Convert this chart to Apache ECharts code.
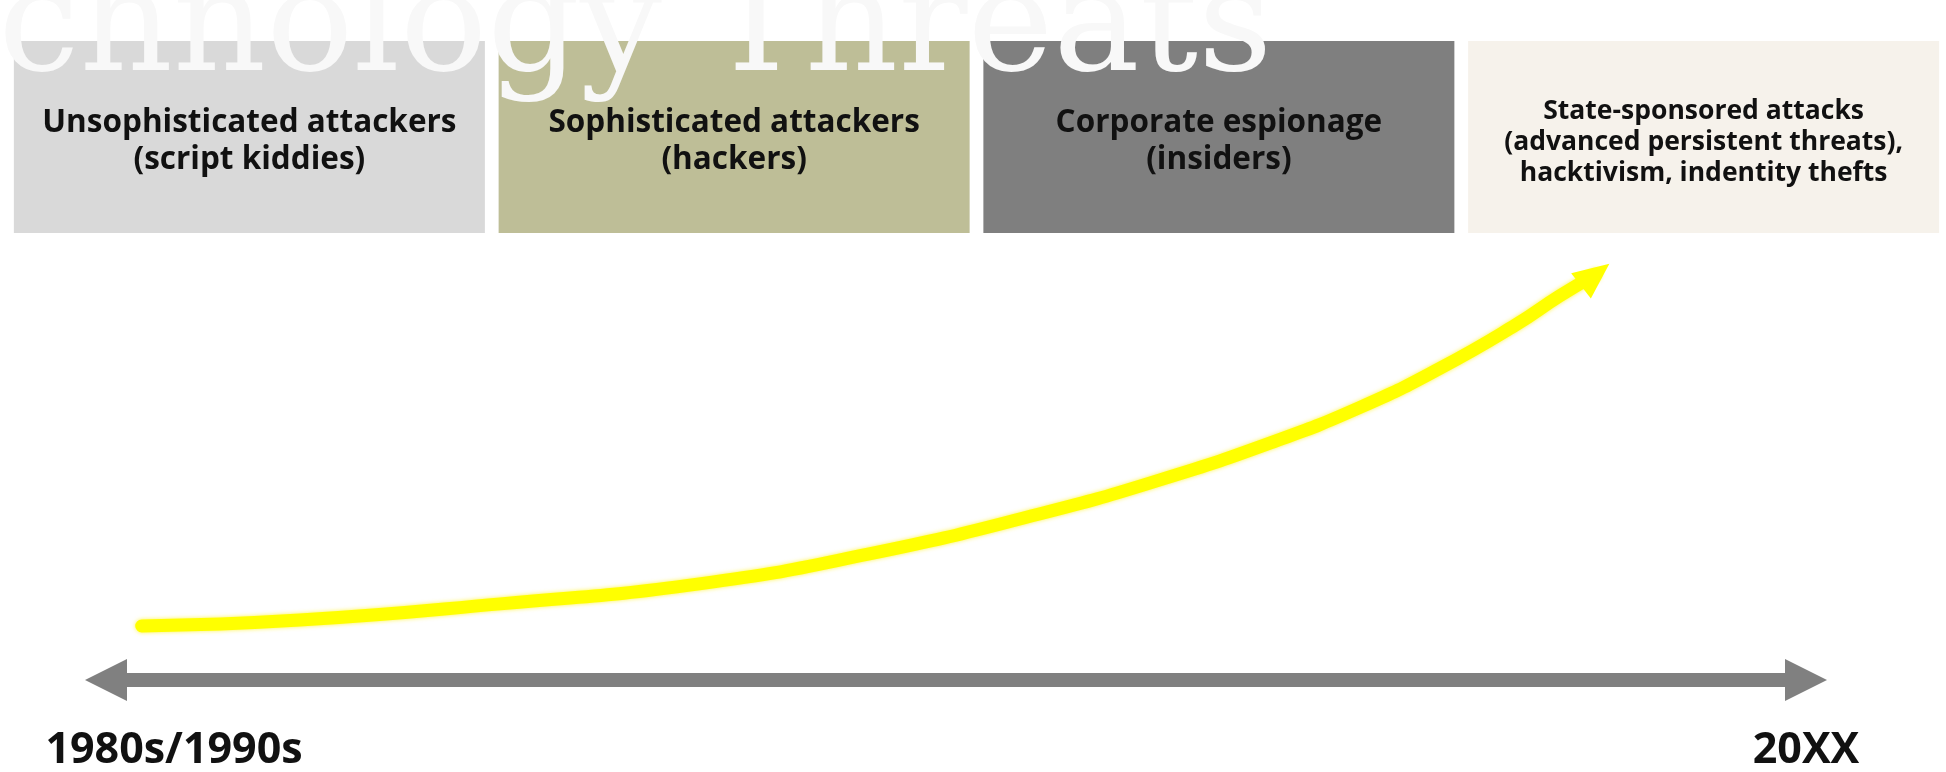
<!DOCTYPE html>
<html><head><meta charset="utf-8">
<script src="https://cdn.jsdelivr.net/npm/echarts@6/dist/echarts.min.js"></script>
<style>html,body{margin:0;padding:0;background:#fff;}#c{width:1946px;height:772px;}</style>
</head><body><div id="c"></div>
<script>
// ---- data ----
const titleText = 'Technology Threats';
const stages = [
  'Unsophisticated attackers\n(script kiddies)',
  'Sophisticated attackers\n(hackers)',
  'Corporate espionage\n(insiders)',
  'State-sponsored attacks\n(advanced persistent threats),\nhacktivism, indentity thefts'
];
const stageValues = [1, 1, 1, 1];
const timeLabels = ['1980s/1990s', '20XX'];
const timeLabelPositions = [4, 100];
const trendX = [2.1, 11.4, 23.2, 34.9, 44.9, 54.9, 62.0, 68.5, 73.8, 78.5, 82.9, 85.5, 87.6];
const trendY = [13.0, 14.4, 18.3, 23.1, 30.3, 39.9, 48.1, 57.0, 65.6, 75.0, 85.3, 92.3, 97.4];

// ---- styles ----
const stageColors = ['#d9d9d9', '#bebe97', '#7f7f7f', '#f6f2eb'];
const font = 'Open Sans';

const chart = echarts.init(document.getElementById('c'), null, {renderer: 'canvas'});

const curveData = trendX.map((x, i) => {
  const item = {value: [x, trendY[i]]};
  if (i === trendX.length - 1) {
    item.symbol = 'triangle';
    item.symbolSize = [32, 36];
    item.symbolRotate = -52;
  }
  return item;
});

const barData = stageValues.map((v, i) => {
  const item = {value: v, itemStyle: {color: stageColors[i]}};
  if (i === 3) item.label = {fontSize: 26.5, lineHeight: 31};
  return item;
});

chart.setOption({
  animation: false,
  backgroundColor: '#ffffff',
  graphic: [{
    type: 'text',
    x: -173,
    y: 32,
    z: 100,
    style: {
      text: titleText,
      font: 'normal 145px "DejaVu Serif"',
      fill: '#f8f8f8',
      align: 'left',
      verticalAlign: 'middle'
    }
  }],
  grid: [
    {left: 106, right: 140, top: 264, bottom: 92},
    {left: 7, width: 1946, top: 41, height: 192}
  ],
  xAxis: [
    {
      gridIndex: 0, type: 'value', min: 0, max: 100,
      axisLine: {show: true, onZero: false, symbol: ['triangle', 'triangle'], symbolSize: [42, 42],
        lineStyle: {color: '#808080', width: 14}},
      axisTick: {show: false},
      splitLine: {show: false},
      axisLabel: {
        customValues: timeLabelPositions,
        formatter: (v) => timeLabels[timeLabelPositions.indexOf(v)],
        fontFamily: font, fontWeight: 'bold', fontSize: 43, color: '#111',
        margin: 49
      }
    },
    {
      gridIndex: 1, type: 'category', data: stages, show: false
    }
  ],
  yAxis: [
    {gridIndex: 0, type: 'value', min: 0, max: 100, show: false},
    {gridIndex: 1, type: 'value', min: 0, max: 1, show: false}
  ],
  series: [
    {
      type: 'bar', xAxisIndex: 1, yAxisIndex: 1,
      data: barData, barWidth: 471,
      label: {
        show: true, position: 'inside', offset: [0, 5],
        formatter: (p) => stages[p.dataIndex],
        fontFamily: font, fontWeight: 'bold', fontSize: 31.5, lineHeight: 37, color: '#111'
      }
    },
    {
      type: 'line', xAxisIndex: 0, yAxisIndex: 0,
      data: curveData, smooth: 0.5,
      symbol: 'none', showSymbol: true, showAllSymbol: true,
      itemStyle: {color: '#ffff00'},
      lineStyle: {color: '#ffff00', width: 13, cap: 'round',
        shadowBlur: 4, shadowColor: 'rgba(255,240,0,0.7)'}
    }
  ]
});
</script>
</body></html>
